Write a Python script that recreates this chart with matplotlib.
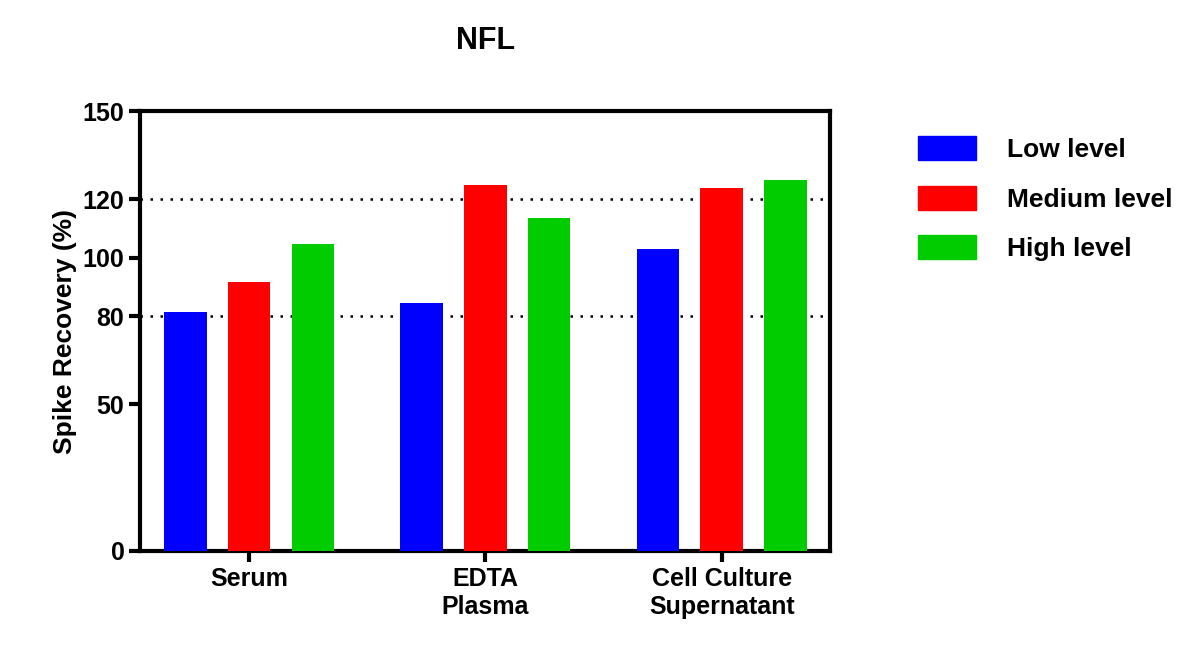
import matplotlib
matplotlib.use("Agg")
import matplotlib.pyplot as plt
from matplotlib.patches import Patch

plt.rcParams['font.family'] = ['Liberation Sans', 'DejaVu Sans']
plt.rcParams['font.weight'] = 'bold'

categories = ["Serum", "EDTA\nPlasma", "Cell Culture\nSupernatant"]
series = ["Low level", "Medium level", "High level"]
low = [81.5, 84.5, 103.0]
medium = [91.7, 124.8, 123.8]
high = [104.7, 113.5, 126.5]
colors = ["#0000FF", "#FF0000", "#00CC00"]

fig = plt.figure(figsize=(12, 6.62), dpi=100)
ax = fig.add_axes([0.117, 0.168, 0.575, 0.664])

w = 0.18
offsets = [-0.27, 0.0, 0.27]
for vals, off, c in zip([low, medium, high], offsets, colors):
    ax.bar([i + off for i in range(len(categories))], vals, width=w, color=c, zorder=3)

for yv in (80, 120):
    ax.axhline(yv, color="black", linestyle=(0, (1, 3)), linewidth=1.8, zorder=1)

ax.set_xlim(-0.46, 2.46)
ax.set_ylim(0, 150)
ax.set_yticks([0, 50, 80, 100, 120, 150])
ax.set_xticks(range(len(categories)))
ax.set_xticklabels(categories, fontsize=18, fontweight="bold")
ax.tick_params(axis="y", labelsize=18, width=3, length=8)
ax.tick_params(axis="x", width=3, length=8)
for lab in ax.get_yticklabels():
    lab.set_fontweight("bold")
for s in ax.spines.values():
    s.set_linewidth(3)
ax.set_ylabel("Spike Recovery (%)", fontsize=19, fontweight="bold")
ax.set_title("NFL", fontsize=22, fontweight="bold", pad=45)

handles = [Patch(color=c, label=s) for c, s in zip(colors, series)]
fig.legend(handles=handles, loc="upper left", bbox_to_anchor=(0.745, 0.83),
           frameon=False, fontsize=19, handlelength=2.2, handleheight=1.0,
           labelspacing=0.9, handletextpad=1.2)

fig.savefig("out.png", dpi=100)
